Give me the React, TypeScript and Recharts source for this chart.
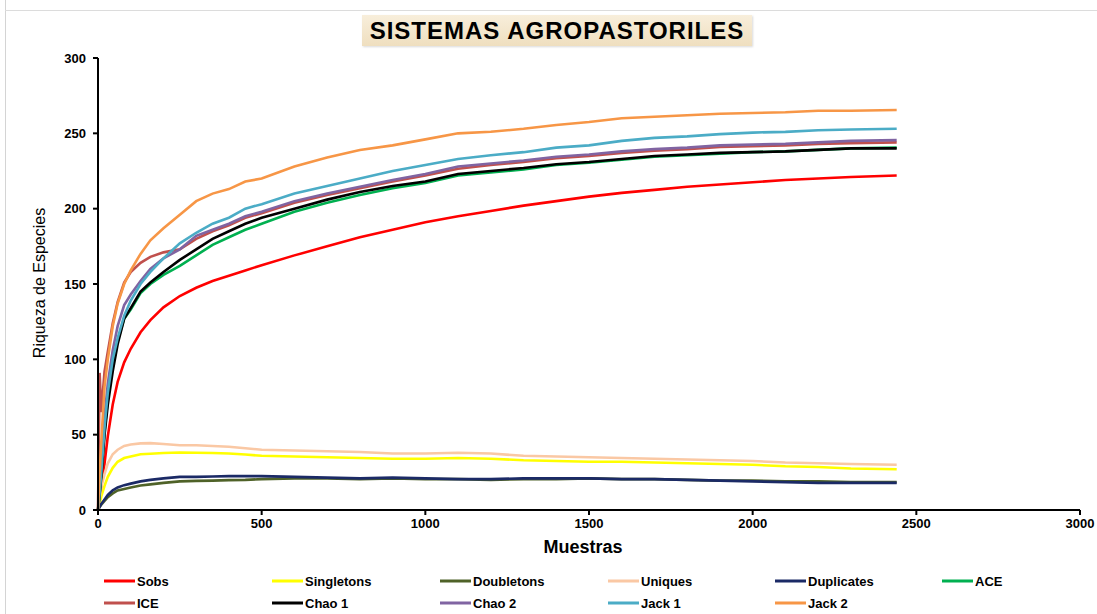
import React from "react";
import { LineChart, Line, XAxis, YAxis } from "recharts";

const muestras = [0, 5, 10, 20, 30, 45, 60, 80, 100, 130, 160, 200, 250, 300, 350, 400, 450, 500, 600, 700, 800, 900, 1000, 1100, 1200, 1300, 1400, 1500, 1600, 1700, 1800, 1900, 2000, 2100, 2200, 2300, 2440];

const sobs = [0, 8, 16, 31, 49, 70, 85, 98, 107, 118, 126, 134.5, 142, 147.5, 152, 155.5, 159, 162.5, 169, 175, 181, 186, 191, 195, 198.5, 202, 205, 208, 210.5, 212.5, 214.5, 216, 217.5, 219, 220, 221, 222];
const singletons = [0, 4, 9, 16, 22, 28, 32, 34.5, 35.5, 37, 37.3, 37.8, 38.2, 38, 37.8, 37.5, 36.8, 36, 35.5, 35, 34.5, 34, 34, 34.5, 34, 33, 32.5, 32, 32, 31.5, 31, 30.5, 30, 29, 28.5, 27.5, 27];
const doubletons = [0, 2, 3.5, 6, 8.5, 11, 13, 14, 15, 16.3, 17, 18, 19, 19.3, 19.5, 19.8, 20, 20.5, 21, 21, 20.5, 21, 20.5, 20.5, 20, 20.5, 20.5, 21, 20.5, 20.5, 20, 19.5, 19.5, 19, 19, 18.5, 18.5];
const uniques = [0, 8, 15, 24, 31, 37, 40, 42.5, 43.5, 44.2, 44.4, 43.8, 43, 43, 42.5, 42, 41, 40, 39.5, 39, 38.5, 37.5, 37.5, 38, 37.5, 36, 35.5, 35, 34.5, 34, 33.5, 33, 32.5, 31.5, 31, 30.5, 30];
const duplicates = [0, 2, 4, 7, 10, 13, 15, 16.5, 17.5, 19, 20, 21, 22, 22, 22.2, 22.5, 22.5, 22.5, 22, 21.5, 21, 21.5, 21, 20.5, 20.5, 21, 21, 21, 20.5, 20.5, 20, 19.5, 19, 18.5, 18, 18, 18];
const ace = [0, 11, 24, 52, 74, 96, 112, 127, 133, 144, 150, 156, 162, 169, 176, 181, 186, 190, 198, 204, 209, 213.5, 217, 222, 224, 226, 229, 230.5, 232.5, 234.5, 235.5, 236.5, 237.5, 238, 239, 240, 240.5];
const ice = [0, 91, 65, 92, 105, 124, 138, 151, 158, 164, 168, 171, 173, 180, 185, 189, 194, 197, 204, 209, 213.5, 218, 222, 226.5, 229, 231, 233.5, 235, 237, 238.5, 239.5, 241, 241.5, 242, 243, 243.5, 244];
const chao1 = [0, 10, 22, 50, 70, 92, 110, 127, 134, 145, 151, 158, 166, 173, 180, 185, 190, 194, 200, 206, 211, 215, 218, 223, 225, 227, 229.5, 231, 233, 235, 236, 237, 237.5, 238, 239, 240, 240];
const chao2 = [0, 14, 30, 62, 84, 106, 122, 136, 143, 152, 160, 167, 173, 182, 186, 190, 195, 198, 205, 210, 214.5, 219, 223, 228, 230, 232, 234.5, 236, 238, 239.5, 240.5, 242, 242.5, 243, 244, 245, 245.5];
const jack1 = [0, 12, 25, 55, 78, 100, 114, 129, 139, 150, 158, 167, 177, 184, 190, 194, 200, 203, 210, 215, 220, 225, 229, 233, 235.5, 237.5, 240.5, 242, 245, 247, 248, 249.5, 250.5, 251, 252, 252.5, 253];
const jack2 = [0, 25, 45, 82, 100, 122, 137, 150, 159, 170, 179, 187, 196, 205, 210, 213, 218, 220, 228, 234, 239, 242, 246, 250, 251, 253, 255.5, 257.5, 260, 261, 262, 263, 263.5, 264, 265, 265, 265.5];

const xTicks = [0, 500, 1000, 1500, 2000, 2500, 3000];
const yTicks = [0, 50, 100, 150, 200, 250, 300];

const seriesDefs = [
  { key: "Sobs", values: sobs, color: "#ff0000" },
  { key: "Singletons", values: singletons, color: "#ffff00" },
  { key: "Doubletons", values: doubletons, color: "#4f6228" },
  { key: "Uniques", values: uniques, color: "#fac8a4" },
  { key: "Duplicates", values: duplicates, color: "#1b2a66" },
  { key: "ACE", values: ace, color: "#00b050" },
  { key: "ICE", values: ice, color: "#c0504d" },
  { key: "Chao 1", values: chao1, color: "#000000" },
  { key: "Chao 2", values: chao2, color: "#8064a2" },
  { key: "Jack 1", values: jack1, color: "#4bacc6" },
  { key: "Jack 2", values: jack2, color: "#f79646" },
];

const data = muestras.map((m, i) => {
  const row: Record<string, number> = { m };
  seriesDefs.forEach((s) => {
    row[s.key] = s.values[i];
  });
  return row;
});

const FONT = "'Liberation Sans', Arial, sans-serif";

const legendCols = [104, 272, 440, 608, 775, 942];

export default function App() {
  return (
    <div style={{ position: "absolute", left: 0, top: 0, width: 1097, height: 614, background: "#fff", fontFamily: FONT, overflow: "hidden" }}>
      <div style={{ position: "absolute", left: 5, top: 0, width: 1, height: 614, background: "#d4d4d4" }} />
      <div style={{ position: "absolute", left: 5, top: 10, width: 1092, height: 1, background: "#dcdcdc" }} />
      <div
        style={{
          position: "absolute",
          left: 362,
          top: 15,
          width: 390,
          height: 31,
          background: "linear-gradient(#f8eedb, #efdfbf)",
          boxShadow: "1px 1px 2px rgba(0,0,0,0.15)",
          display: "flex",
          alignItems: "center",
          justifyContent: "center",
          fontWeight: "bold",
          fontSize: 24,
          letterSpacing: 1,
          color: "#000",
          whiteSpace: "nowrap",
        }}
      >
        SISTEMAS AGROPASTORILES
      </div>
      <LineChart
        width={1097}
        height={614}
        data={data}
        margin={{ top: 58, right: 17, bottom: 74, left: 0 }}
      >
        <XAxis
          dataKey="m"
          type="number"
          domain={[0, 3000]}
          ticks={xTicks}
          interval={0}
          height={30}
          tickSize={5}
          tickMargin={4}
          axisLine={{ stroke: "#000", strokeWidth: 2 }}
          tickLine={{ stroke: "#000", strokeWidth: 2 }}
          tick={{ fill: "#000", fontSize: 13, fontWeight: "bold", fontFamily: FONT }}
        />
        <YAxis
          type="number"
          domain={[0, 300]}
          ticks={yTicks}
          interval={0}
          width={98}
          tickSize={5}
          tickMargin={7}
          axisLine={{ stroke: "#000", strokeWidth: 2 }}
          tickLine={{ stroke: "#000", strokeWidth: 2 }}
          tick={{ fill: "#000", fontSize: 13, fontWeight: "bold", fontFamily: FONT }}
        />
        {seriesDefs.map((s) => (
          <Line
            key={s.key}
            dataKey={s.key}
            type="linear"
            stroke={s.color}
            strokeWidth={2.6}
            dot={false}
            activeDot={false}
            isAnimationActive={false}
          />
        ))}
      </LineChart>
      <div
        style={{
          position: "absolute",
          left: 40,
          top: 283,
          transform: "translate(-50%, -50%) rotate(-90deg)",
          fontSize: 16,
          whiteSpace: "nowrap",
          color: "#000",
        }}
      >
        Riqueza de Especies
      </div>
      <div
        style={{
          position: "absolute",
          left: 583,
          top: 547,
          transform: "translate(-50%, -50%)",
          fontSize: 18,
          fontWeight: "bold",
          whiteSpace: "nowrap",
          color: "#000",
        }}
      >
        Muestras
      </div>
      {seriesDefs.map((s, i) => {
        const row = i < 6 ? 0 : 1;
        const col = i < 6 ? i : i - 6;
        return (
          <div
            key={s.key}
            style={{
              position: "absolute",
              left: legendCols[col],
              top: row === 0 ? 581 : 603,
              transform: "translateY(-50%)",
              display: "flex",
              alignItems: "center",
              whiteSpace: "nowrap",
            }}
          >
            <div style={{ width: 31, height: 3, background: s.color, marginRight: 2 }} />
            <span style={{ fontSize: 13, fontWeight: "bold", color: "#000" }}>{s.key}</span>
          </div>
        );
      })}
    </div>
  );
}
